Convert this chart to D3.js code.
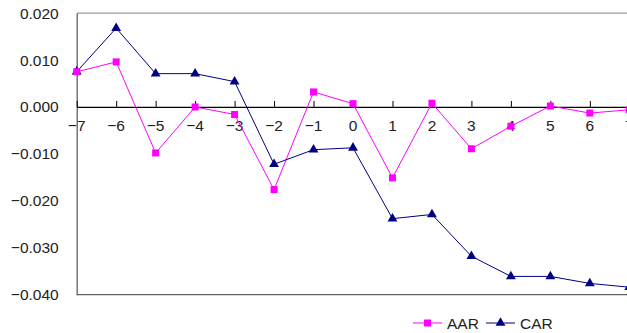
<!DOCTYPE html>
<html>
<head>
<meta charset="utf-8">
<script src="https://cdn.jsdelivr.net/npm/d3@7"></script>
<style>
  body { margin: 0; background: #fff; }
  svg { display: block; font-family: "Liberation Sans", Arial, sans-serif; }
</style>
</head>
<body>
<svg id="chart" width="627" height="333"></svg>
<script>
// data
const days = [-7, -6, -5, -4, -3, -2, -1, 0, 1, 2, 3, 4, 5, 6, 7];
const aar = [0.0075, 0.0096, -0.0098, 0.0000, -0.0016, -0.0176, 0.0032, 0.0007, -0.0151, 0.0008, -0.0089, -0.0041, 0.0002, -0.0013, -0.0006];
const car = [0.0075, 0.0168, 0.0071, 0.0071, 0.0054, -0.0122, -0.0091, -0.0087, -0.0238, -0.0229, -0.0318, -0.0361, -0.0361, -0.0376, -0.0384];
const yTicks = [0.02, 0.01, 0, -0.01, -0.02, -0.03, -0.04];

const fontSize = 15.5;
const svg = d3.select('#chart');

const x = d3.scaleLinear().domain([-7, 7]).range([76.7, 629.3]);
const y = d3.scaleLinear().domain([-0.04, 0.02]).range([294.7, 13.1]);

const fmt = v => {
    let s = d3.format('.3f')(Math.abs(v));
    return v < -1e-9 ? '\u2212' + s : s;
};

// plot frame (top and bottom in gray, left axis)
svg.append('line')
    .attr('x1', x(-7)).attr('x2', 640)
    .attr('y1', y(0.02)).attr('y2', y(0.02))
    .attr('stroke', '#808080').attr('stroke-width', 1);
svg.append('line')
    .attr('x1', x(-7)).attr('x2', 640)
    .attr('y1', y(-0.04)).attr('y2', y(-0.04))
    .attr('stroke', '#606060').attr('stroke-width', 1.3);

// y axis
const yAxis = d3.axisLeft(y).tickValues(yTicks).tickSize(0).tickPadding(18).tickFormat(fmt);
const gy = svg.append('g')
    .attr('transform', 'translate(' + x(-7) + ',0)')
    .call(yAxis);
gy.select('.domain').attr('stroke', '#606060').attr('stroke-width', 1.3);
gy.selectAll('text')
    .attr('font-size', fontSize)
    .attr('font-family', '"Liberation Sans", Arial, sans-serif')
    .attr('fill', '#222');

// x axis on zero line, ticks upward
const xAxis = d3.axisTop(x).tickValues(days).tickSize(6).tickSizeOuter(0).tickFormat(d => '');
const gx = svg.append('g')
    .attr('transform', 'translate(0,' + y(0) + ')')
    .call(xAxis);
gx.select('.domain').attr('stroke', '#000').attr('stroke-width', 1.2);
gx.selectAll('.tick line').attr('stroke', '#000');

svg.append('g').selectAll('text')
    .data(days)
    .join('text')
    .attr('x', d => x(d))
    .attr('y', y(0) + 24)
    .attr('text-anchor', 'middle')
    .attr('font-size', fontSize)
    .attr('fill', '#222')
    .text(d => d < 0 ? '\u2212' + Math.abs(d) : d);

// lines
const line = d3.line().x((d, i) => x(days[i])).y(d => y(d));

svg.append('path')
    .datum(aar)
    .attr('d', line)
    .attr('fill', 'none')
    .attr('stroke', '#ff00ff')
    .attr('stroke-width', 1);

svg.append('path')
    .datum(car)
    .attr('d', line)
    .attr('fill', 'none')
    .attr('stroke', '#000080')
    .attr('stroke-width', 1);

const square = d3.symbol().type(d3.symbolSquare).size(49);
const tri = d3.symbol().type(d3.symbolTriangle).size(42);

svg.append('g').selectAll('path')
    .data(car)
    .join('path')
    .attr('d', tri)
    .attr('transform', (d, i) => 'translate(' + x(days[i]) + ',' + y(d) + ')')
    .attr('fill', '#000080');

svg.append('g').selectAll('path')
    .data(aar)
    .join('path')
    .attr('d', square)
    .attr('transform', (d, i) => 'translate(' + x(days[i]) + ',' + y(d) + ')')
    .attr('fill', '#ff00ff');

// legend
const legend = [
    { name: 'AAR', color: '#ff00ff', sym: square, x0: 413 },
    { name: 'CAR', color: '#000080', sym: tri, x0: 486 }
];
const lg = svg.append('g').selectAll('g')
    .data(legend)
    .join('g')
    .attr('transform', d => 'translate(' + d.x0 + ',323)');
lg.append('line')
    .attr('x1', 0).attr('x2', 29)
    .attr('stroke', d => d.color).attr('stroke-width', 1);
lg.append('path')
    .attr('d', d => d.sym())
    .attr('transform', 'translate(14.5,0)')
    .attr('fill', d => d.color);
lg.append('text')
    .attr('x', 34)
    .attr('y', 5.5)
    .attr('font-size', fontSize)
    .attr('fill', '#222')
    .text(d => d.name);
</script>
</body>
</html>
